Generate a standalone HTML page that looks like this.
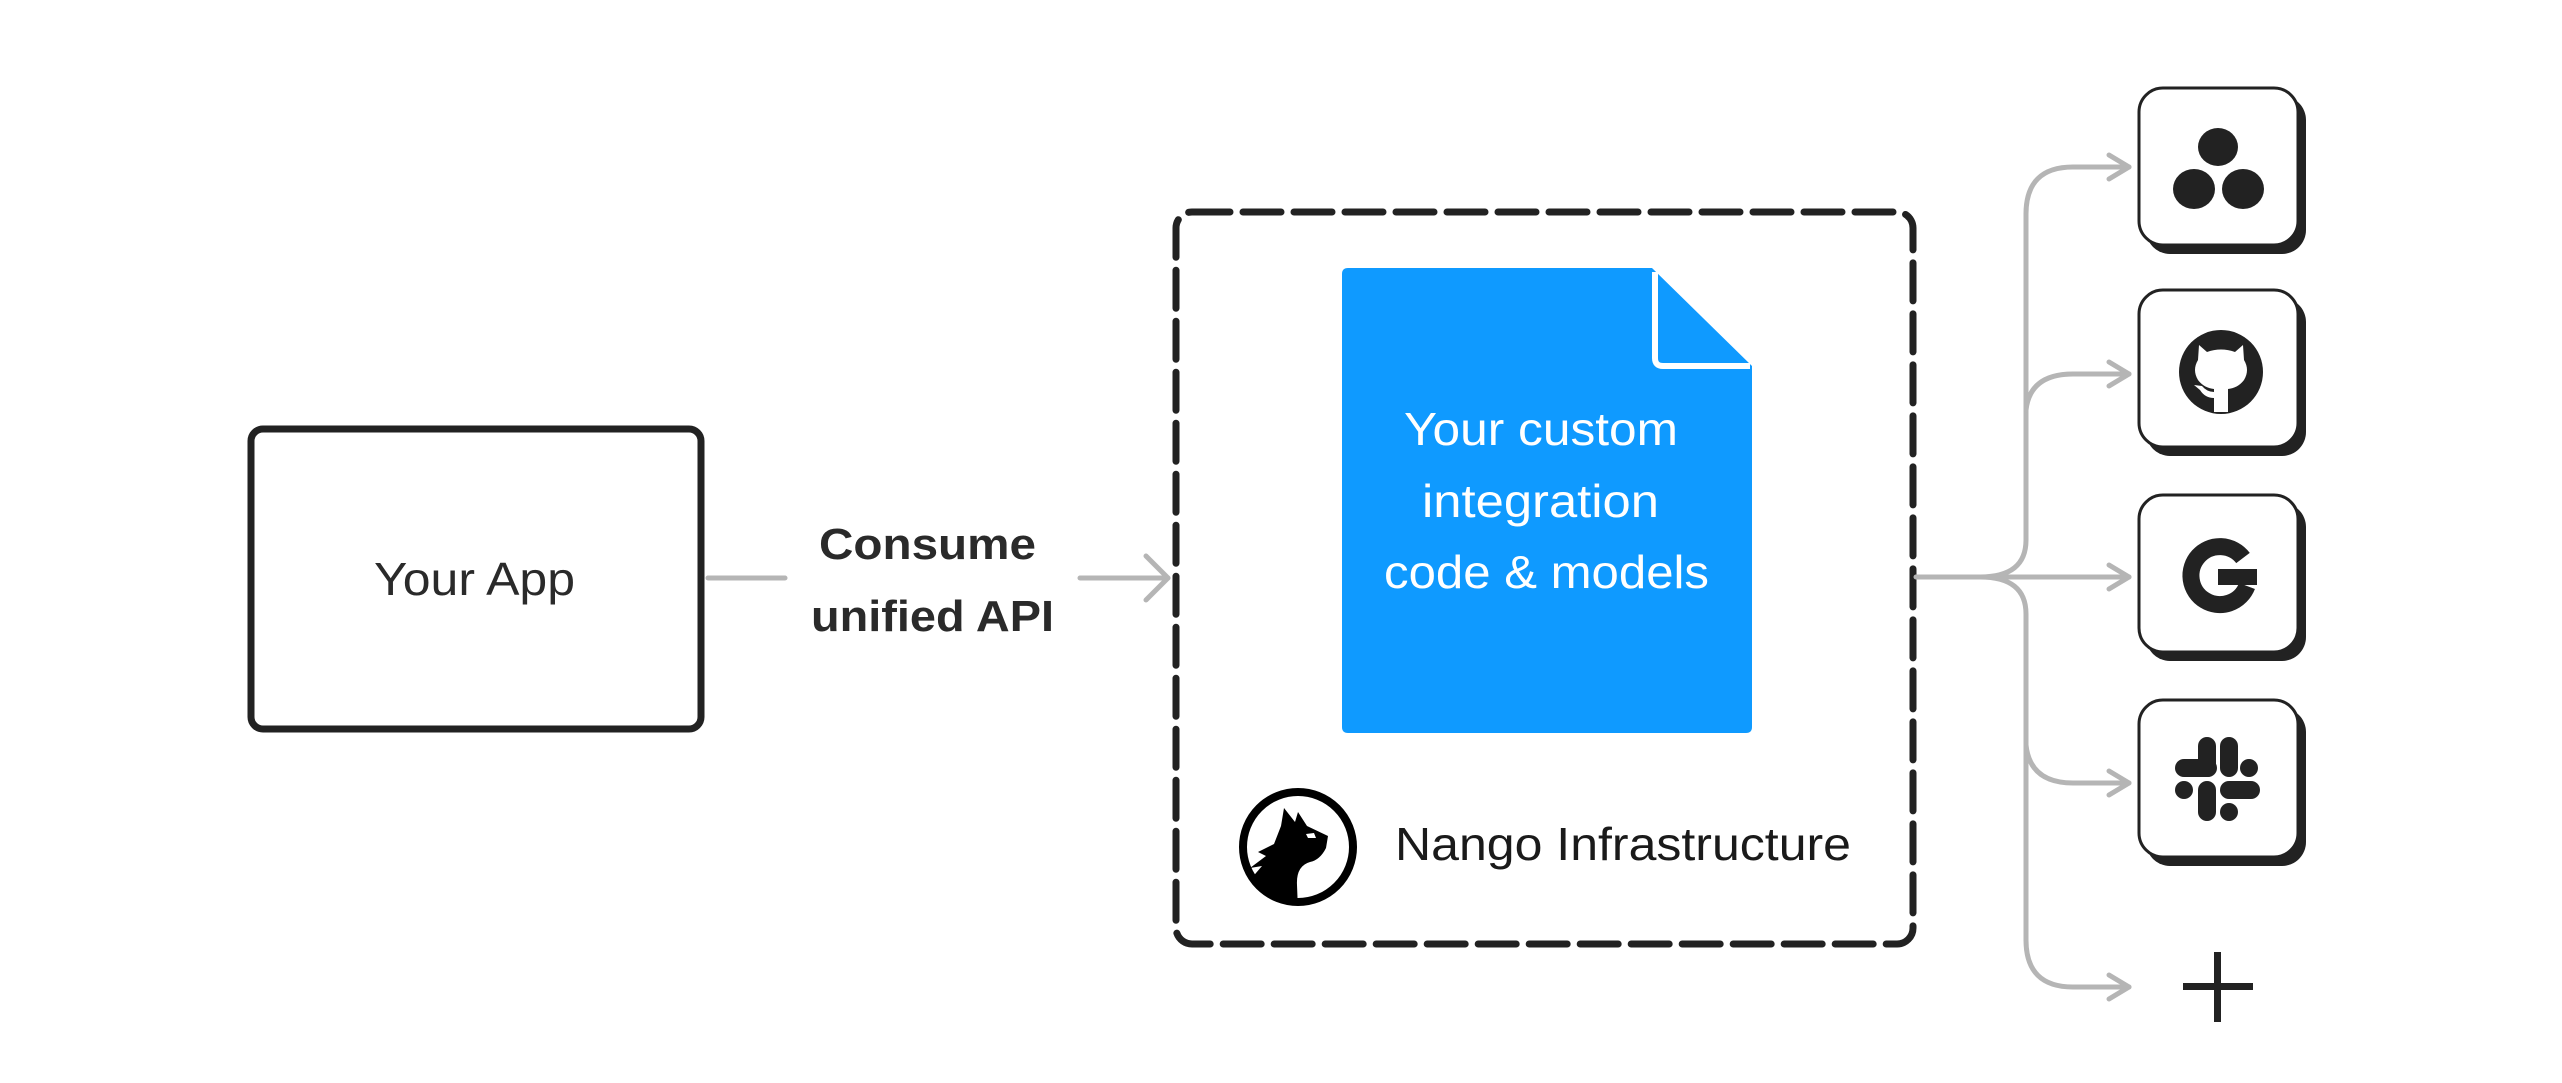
<!DOCTYPE html>
<html><head><meta charset="utf-8"><style>
html,body{margin:0;padding:0;background:#fff;}
svg{display:block;}
text{font-family:"Liberation Sans",sans-serif;}
</style></head><body>
<svg width="2562" height="1083" viewBox="0 0 2562 1083" xmlns="http://www.w3.org/2000/svg">
<rect width="2562" height="1083" fill="#fff"/>
<!-- Your App -->
<rect x="251" y="429" width="450" height="300" rx="12" fill="#fff" stroke="#222" stroke-width="7"/>
<text x="374" y="595" font-size="46" fill="#2a2a2a" textLength="201" lengthAdjust="spacingAndGlyphs">Your App</text>
<!-- connector left -->
<g stroke="#b5b5b5" stroke-width="5" fill="none" stroke-linecap="round" stroke-linejoin="round">
<line x1="708" y1="578" x2="785" y2="578"/>
<line x1="1080" y1="578" x2="1168" y2="578"/>
<polyline points="1146,556 1168,578 1146,600"/>
</g>
<text x="819" y="559" font-size="44" font-weight="bold" fill="#2a2a2a" textLength="217" lengthAdjust="spacingAndGlyphs">Consume</text>
<text x="811" y="631" font-size="44" font-weight="bold" fill="#2a2a2a" textLength="243" lengthAdjust="spacingAndGlyphs">unified API</text>
<!-- dashed box -->
<rect x="1176" y="212" width="737" height="732" rx="16" fill="none" stroke="#222" stroke-width="7" stroke-dasharray="38 13" stroke-linecap="round"/>
<!-- blue doc -->
<path d="M1348,268 L1652,268 L1752,366 L1752,727 Q1752,733 1746,733 L1348,733 Q1342,733 1342,727 L1342,274 Q1342,268 1348,268 Z" fill="#0f9aff"/>
<path d="M1655,272 L1655,358 Q1655,366 1663,366 L1750,366" fill="none" stroke="#fff" stroke-width="6"/>
<text font-size="46" fill="#fff">
<tspan x="1404" y="445" textLength="274" lengthAdjust="spacingAndGlyphs">Your custom</tspan>
<tspan x="1422" y="517" textLength="237" lengthAdjust="spacingAndGlyphs">integration</tspan>
<tspan x="1384" y="588" textLength="325" lengthAdjust="spacingAndGlyphs">code &amp; models</tspan></text>
<!-- nango logo -->
<defs><clipPath id="cc"><circle cx="1298" cy="847" r="54"/></clipPath></defs>
<circle cx="1298" cy="847" r="55" fill="#fff" stroke="#000" stroke-width="8"/>
<path clip-path="url(#cc)" fill="#000" d="M1275,872 L1250,880 L1262,866 L1250,868 L1266,856 L1258,852 L1274,844 L1281,826 L1284,808 L1295,822 L1298,812 L1307,826 L1328,836 L1326,848 Q1320,860 1310,862 Q1296,866 1297,885 L1298,910 L1230,910 L1230,880 Z"/>
<path d="M1306,834 L1314,833 L1316,838 L1308,838 Z" fill="#fff"/>
<text x="1395" y="860" font-size="46" fill="#1a1a1a" textLength="456" lengthAdjust="spacingAndGlyphs">Nango Infrastructure</text>
<!-- right connectors -->
<g stroke="#b5b5b5" stroke-width="5" fill="none" stroke-linecap="round" stroke-linejoin="round">
<line x1="1916" y1="577" x2="2129" y2="577"/>
<path d="M1980,577 Q2026,577 2026,540 L2026,214 Q2026,167 2073,167 L2129,167"/>
<path d="M2026,410 Q2030,374 2073,374 L2129,374"/>
<path d="M1980,577 Q2026,577 2026,614 L2026,940 Q2026,987 2073,987 L2129,987"/>
<path d="M2026,745 Q2030,783 2073,783 L2129,783"/>
<polyline points="2109,155 2129,167 2109,179"/>
<polyline points="2109,362 2129,374 2109,386"/>
<polyline points="2109,565 2129,577 2109,589"/>
<polyline points="2109,771 2129,783 2109,795"/>
<polyline points="2109,975 2129,987 2109,999"/>
</g>
<!-- icon boxes -->
<g>
<rect x="2146" y="96" width="160" height="158" rx="24" fill="#222"/>
<rect x="2139" y="88" width="159" height="157" rx="24" fill="#fff" stroke="#222" stroke-width="3"/>
<rect x="2146" y="298" width="160" height="158" rx="24" fill="#222"/>
<rect x="2139" y="290" width="159" height="157" rx="24" fill="#fff" stroke="#222" stroke-width="3"/>
<rect x="2146" y="503" width="160" height="158" rx="24" fill="#222"/>
<rect x="2139" y="495" width="159" height="157" rx="24" fill="#fff" stroke="#222" stroke-width="3"/>
<rect x="2146" y="708" width="160" height="158" rx="24" fill="#222"/>
<rect x="2139" y="700" width="159" height="157" rx="24" fill="#fff" stroke="#222" stroke-width="3"/>
</g>
<!-- asana -->
<ellipse cx="2218" cy="147" rx="20" ry="19" fill="#222"/>
<ellipse cx="2194" cy="189" rx="21" ry="20" fill="#222"/>
<ellipse cx="2243" cy="189" rx="21" ry="20" fill="#222"/>
<!-- github -->
<circle cx="2221" cy="372" r="42" fill="#222"/>
<path d="M2199,345 L2207,352 Q2221,347 2235,352 L2243,345 L2244,360 Q2250,370 2244,380 Q2238,388 2228,389 L2228,412 L2214,412 L2214,398 Q2205,398 2200,390 L2194,385 L2202,386 Q2207,392 2214,392 L2214,389 Q2204,388 2198,380 Q2192,370 2198,360 Z" fill="#fff"/>
<!-- google G -->
<path d="M2243,558 A29,29 0 1 0 2247,586" fill="none" stroke="#222" stroke-width="17"/>
<rect x="2218" y="569" width="39" height="16" fill="#222"/>
<!-- slack -->
<g fill="#222">
<rect x="2198" y="737" width="18" height="40" rx="9"/>
<rect x="2220" y="737" width="18" height="40" rx="9"/>
<rect x="2175" y="759" width="42" height="18" rx="9"/>
<rect x="2240" y="759" width="18" height="18" rx="9"/>
<rect x="2175" y="781" width="18" height="18" rx="9"/>
<rect x="2220" y="781" width="40" height="18" rx="9"/>
<rect x="2198" y="781" width="18" height="40" rx="9"/>
<rect x="2220" y="803" width="18" height="18" rx="9"/>
</g>
<!-- plus -->
<rect x="2183" y="983" width="70" height="7" fill="#222"/>
<rect x="2214" y="952" width="7" height="70" fill="#222"/>
</svg>
</body></html>
